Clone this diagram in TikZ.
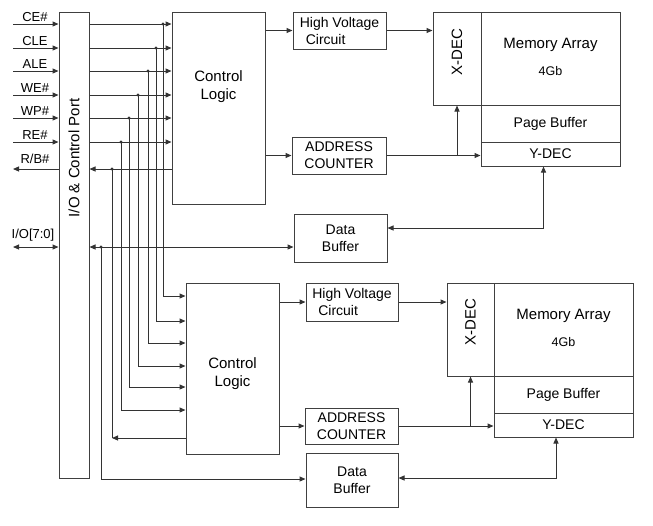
\documentclass[tikz,border=0pt]{standalone}
\usepackage{fontspec}
\setmainfont{Liberation Sans}
\usetikzlibrary{arrows.meta}

\newcommand{\sigtxt}{\fontsize{13}{15}\selectfont}
\newcommand{\bigtxt}{\fontsize{15}{18}\selectfont}
\newcommand{\midtxt}{\fontsize{14}{17}\selectfont}
\newcommand{\smalltxt}{\fontsize{12.5}{15}\selectfont}

\tikzset{
  blk/.style={draw=black!75,line width=1pt,inner sep=0pt,align=center},
  siglab/.style={font=\sigtxt,anchor=base,inner sep=0pt},
}

\begin{document}
\begin{tikzpicture}[x=1pt,y=-1pt,line width=1pt,draw=black!80,
  >={Triangle[length=6pt,width=5pt]}]
\useasboundingbox (0,0) rectangle (653,525);
% I/O & control port
\node[blk,minimum width=30,minimum height=466] (port) at (74,245) {};
\node[rotate=90,font=\bigtxt] (porttxt) at (74,158) {I/O \& Control Port};
% upper die
\node[blk,minimum width=93,minimum height=192] (ctlA) at (218.5,108) {};
\node[font=\bigtxt,align=center] (ctlAtxt) at (218.5,87) {Control\\Logic};
\node[blk,minimum width=93,minimum height=37,font=\midtxt,align=left] (hvA) at (339.5,30.5) {High Voltage\\\hspace*{6pt}Circuit};
\node[blk,minimum width=48,minimum height=93] (xdecA) at (457,58.5) {};
\node[rotate=90,font=\bigtxt] (xdecAtxt) at (457,52) {X-DEC};
\node[blk,minimum width=139,minimum height=93] (memA) at (550.5,58.5) {};
\node[font=\bigtxt] (memAtxt) at (550.5,45) {Memory Array};
\node[font=\smalltxt] (memAsize) at (550.5,71.5) {4Gb};
\node[blk,minimum width=139,minimum height=37,font=\midtxt] (pbA) at (550.5,123.5) {Page Buffer};
\node[blk,minimum width=139,minimum height=24,font=\midtxt] (ydecA) at (550.5,154) {Y-DEC};
\node[blk,minimum width=94,minimum height=37,font=\midtxt] (acA) at (339,155.5) {ADDRESS\\COUNTER};
\node[blk,minimum width=93,minimum height=48,font=\midtxt] (bufA) at (340.5,238) {Data\\Buffer};
% lower die
\node[blk,minimum width=93,minimum height=171] (ctlB) at (232.5,368.5) {};
\node[font=\bigtxt,align=center] (ctlBtxt) at (232.5,374) {Control\\Logic};
\node[blk,minimum width=92,minimum height=38,font=\midtxt,align=left] (hvB) at (352,302) {High Voltage\\\hspace*{6pt}Circuit};
\node[blk,minimum width=47,minimum height=93] (xdecB) at (470.5,329.5) {};
\node[rotate=90,font=\bigtxt] (xdecBtxt) at (470.5,322) {X-DEC};
\node[blk,minimum width=139,minimum height=93] (memB) at (563.5,329.5) {};
\node[font=\bigtxt] (memBtxt) at (563.5,316) {Memory Array};
\node[font=\smalltxt] (memBsize) at (563.5,342) {4Gb};
\node[blk,minimum width=139,minimum height=37,font=\midtxt] (pbB) at (563.5,394.5) {Page Buffer};
\node[blk,minimum width=139,minimum height=24,font=\midtxt] (ydecB) at (563.5,425) {Y-DEC};
\node[blk,minimum width=93,minimum height=36,font=\midtxt] (acB) at (351.5,426) {ADDRESS\\COUNTER};
\node[blk,minimum width=92,minimum height=54,font=\midtxt] (bufB) at (352,480) {Data\\Buffer};

% upper die connections
\draw[->] (ctlA.east |- hvA.west) -- (hvA.west);
\draw[->] (hvA.east) -- (hvA.east -| xdecA.west);
\draw[->] (ctlA.east |- acA.west) -- (acA.west);
\draw[->] (acA.east) -- (acA.east -| ydecA.west);
\draw[->] (acA.east -| xdecA.south) -- (xdecA.south);
\draw[<->] ([xshift=-7pt]ydecA.south) |- ([yshift=10pt]bufA.east);
% lower die connections
\draw[->] (ctlB.east |- hvB.west) -- (hvB.west);
\draw[->] (hvB.east) -- (hvB.east -| xdecB.west);
\draw[->] (ctlB.east |- acB.west) -- (acB.west);
\draw[->] (acB.east) -- (acB.east -| ydecB.west);
\draw[->] (acB.east -| xdecB.south) -- (xdecB.south);
\draw[<->] ([xshift=-7.5pt]ydecB.south) |- ([yshift=2pt]bufB.east);

% control inputs, tapped down to the lower die
\foreach \sig/\txt/\ya/\xt/\yb in {ce/CE\#/24/163/296, cle/CLE/48/156/321,
    ale/ALE/71/148/343, we/WE\#/95/138/366, wp/WP\#/118/129/387, re/RE\#/142/121/410}{
  \coordinate (\sig) at (13,\ya);
  \node[siglab] (lab\sig) at (35,{\ya-3}) {\txt};
  \draw[->] (\sig) -- (\sig -| port.west);
  \draw[->] (\sig -| port.east) -- (\sig -| ctlA.west);
  \coordinate (tap\sig) at (\xt,\ya);
  \coordinate (bend\sig) at (\xt,\yb);
  \fill[black!80] (tap\sig) circle (1.6);
  \draw[->] (tap\sig) -- (bend\sig) -- (bend\sig -| ctlB.west);
}

% R/B#
\coordinate (rb) at (13,169);
\node[siglab] (labrb) at (35,163) {R/B\#};
\draw[<-] (rb) -- (rb -| port.west);
\draw[<-] (rb -| port.east) -- (rb -| ctlA.west);
\coordinate (taprb) at (112,169);
\coordinate (bendrb) at (112,438);
\fill[black!80] (taprb) circle (1.6);
\draw (taprb) -- (bendrb);
\draw[<-] (bendrb) -- (bendrb -| ctlB.west);

% I/O bus
\coordinate (io) at (13,247);
\node[siglab] (labio) at (33,238) {I/O[7:0]};
\draw[<->] (io) -- (io -| port.west);
\draw[<->] (io -| port.east) -- (io -| bufA.west);
\coordinate (tapio) at (101,247);
\coordinate (bendio) at (101,479);
\fill[black!80] (tapio) circle (1.6);
\draw[->] (tapio) -- (bendio) -- (bendio -| bufB.west);
\end{tikzpicture}
\end{document}
